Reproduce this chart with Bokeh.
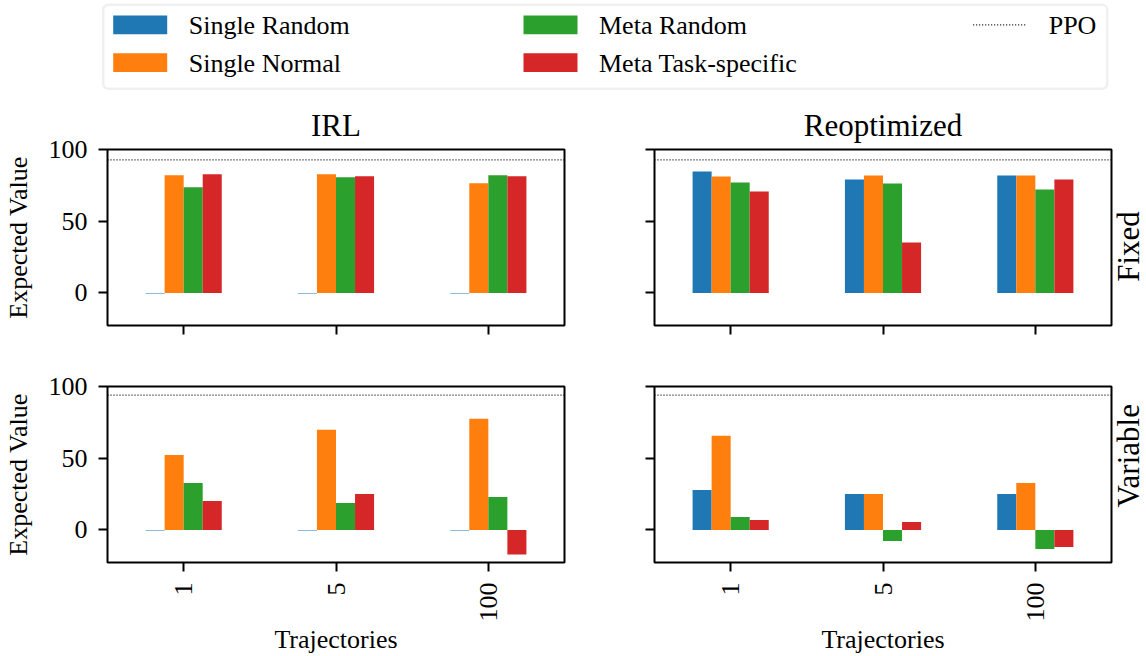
import math
from bokeh.plotting import figure
from bokeh.layouts import column, row
from bokeh.models import (ColumnDataSource, FactorRange, Range1d, FixedTicker,
                          Span, BoxAnnotation)
from bokeh.transform import dodge
from bokeh.core.properties import value
from bokeh.embed import file_html
from bokeh.resources import INLINE

FONT = "Liberation Serif"

# ---------------- data ----------------
trajectories = ["1", "5", "100"]
series_names = ["Single Random", "Single Normal", "Meta Random", "Meta Task-specific"]
series_colors = ["#1f77b4", "#ff7f0e", "#2ca02c", "#d62728"]
y_ticks = [0, 50, 100]

# IRL / Fixed
irl_fixed_single_random = [-0.4, -0.4, -0.4]
irl_fixed_single_normal = [82.0, 82.7, 76.4]
irl_fixed_meta_random = [73.6, 80.6, 82.0]
irl_fixed_meta_task = [82.7, 81.3, 81.3]
# Reoptimized / Fixed
reopt_fixed_single_random = [84.7, 79.1, 81.9]
reopt_fixed_single_normal = [81.2, 81.9, 81.9]
reopt_fixed_meta_random = [77.0, 76.3, 72.1]
reopt_fixed_meta_task = [70.7, 35.1, 79.1]
# IRL / Variable
irl_var_single_random = [-0.4, -0.4, -0.4]
irl_var_single_normal = [52.3, 69.8, 77.5]
irl_var_meta_random = [32.8, 18.8, 23.0]
irl_var_meta_task = [20.2, 25.1, -17.2]
# Reoptimized / Variable
reopt_var_single_random = [27.9, 25.1, 25.1]
reopt_var_single_normal = [65.6, 25.1, 32.8]
reopt_var_meta_random = [9.1, -7.7, -13.3]
reopt_var_meta_task = [7.0, 5.6, -11.9]

ppo_fixed = 92.8
ppo_variable = 94.0

column_titles = ["IRL", "Reoptimized"]
row_labels = ["Fixed", "Variable"]
y_label = "Expected Value"
x_label = "Trajectories"
ppo_label = "PPO"

Y_MIN, Y_MAX = -22.7, 100

# ---------------- layout constants ----------------
FRAME_W, FRAME_H = 457, 176
L_LEFT, L_RIGHT = 103, 40
R_LEFT, R_RIGHT = 50, 2
SIDE_W = 37
TOTAL_W = L_LEFT + FRAME_W + L_RIGHT + R_LEFT + FRAME_W + R_RIGHT + SIDE_W
LEG_H = 92
ROW1 = (57, 30)   # top, bottom borders
ROW2 = (31, 92)
BAR_W = 0.5 / len(series_names)
DOT = "1 2"


def style_axis(ax, show_labels):
    ax.axis_line_color = None
    ax.major_tick_line_color = "black"
    ax.major_tick_line_width = 2
    ax.major_tick_out = 9
    ax.major_tick_in = 0
    ax.minor_tick_line_color = None
    ax.major_label_text_font = FONT
    ax.axis_label_text_font = FONT
    ax.axis_label_text_font_style = "normal"
    ax.axis_label_text_color = "black"
    ax.axis_label_text_font_size = "26px"
    if show_labels:
        ax.major_label_text_font_size = "26px"
        ax.major_label_text_color = "black"
    else:
        ax.major_label_text_font_size = "0px"
        ax.major_label_text_color = None
        ax.major_label_standoff = 0


def panel(values, ppo, title=None, ylabel=False, xlabels=False,
          left=0, right=0, top=0, bottom=0):
    p = figure(x_range=FactorRange(factors=trajectories), y_range=Range1d(Y_MIN, Y_MAX),
               frame_width=FRAME_W, frame_height=FRAME_H, title=title,
               output_backend="svg", toolbar_location=None,
               min_border_left=left, min_border_right=right,
               min_border_top=top, min_border_bottom=bottom)
    p.background_fill_color = "white"
    p.border_fill_color = "white"
    p.outline_line_color = "black"
    p.outline_line_width = 2
    p.outline_line_alpha = 1
    p.xgrid.visible = False
    p.ygrid.visible = False

    data = {"traj": trajectories}
    for i, vals in enumerate(values):
        data["s%d" % i] = vals
    src = ColumnDataSource(data)
    for i, color in enumerate(series_colors):
        p.vbar(x=dodge("traj", (i - 1.5) * BAR_W, range=p.x_range), top="s%d" % i,
               bottom=0, width=BAR_W, source=src, fill_color=color, line_color=None)

    p.add_layout(Span(location=ppo, dimension="width", line_color="black",
                      line_width=1.2, line_dash=DOT))

    yax = p.yaxis[0]
    yax.ticker = FixedTicker(ticks=y_ticks, minor_ticks=[])
    style_axis(yax, ylabel)
    if ylabel:
        yax.axis_label = y_label
        yax.major_label_standoff = 11
        yax.axis_label_standoff = 13

    xax = p.xaxis[0]
    style_axis(xax, xlabels)
    if xlabels:
        xax.major_label_orientation = math.pi / 2
        xax.major_label_standoff = 11
        xax.axis_label = x_label
        xax.axis_label_standoff = 0

    if title:
        p.title.align = "center"
        p.title.text_font = FONT
        p.title.text_font_size = "31px"
        p.title.text_font_style = "normal"
        p.title.text_color = "black"
        p.title.standoff = 14
    return p


def side(label, height, top_border):
    s = figure(width=SIDE_W, height=height, x_range=Range1d(0, SIDE_W), y_range=Range1d(0, height),
               output_backend="svg", toolbar_location=None, min_border=0,
               x_axis_location=None, y_axis_location=None, outline_line_color=None)
    s.grid.visible = False
    s.background_fill_color = "white"
    s.border_fill_color = "white"
    center_from_top = top_border + FRAME_H / 2
    s.text(x=[SIDE_W / 2 - 4], y=[height - center_from_top], text=[label], angle=math.pi / 2,
           text_font=value(FONT), text_font_size="31px", text_color="black",
           text_align="center", text_baseline="middle")
    return s


tl = panel([irl_fixed_single_random, irl_fixed_single_normal, irl_fixed_meta_random, irl_fixed_meta_task],
           ppo_fixed, title=column_titles[0], ylabel=True,
           left=L_LEFT, right=L_RIGHT, top=ROW1[0], bottom=ROW1[1])
tr = panel([reopt_fixed_single_random, reopt_fixed_single_normal, reopt_fixed_meta_random, reopt_fixed_meta_task],
           ppo_fixed, title=column_titles[1],
           left=R_LEFT, right=R_RIGHT, top=ROW1[0], bottom=ROW1[1])
bl = panel([irl_var_single_random, irl_var_single_normal, irl_var_meta_random, irl_var_meta_task],
           ppo_variable, ylabel=True, xlabels=True,
           left=L_LEFT, right=L_RIGHT, top=ROW2[0], bottom=ROW2[1])
br = panel([reopt_var_single_random, reopt_var_single_normal, reopt_var_meta_random, reopt_var_meta_task],
           ppo_variable, xlabels=True,
           left=R_LEFT, right=R_RIGHT, top=ROW2[0], bottom=ROW2[1])

s1 = side(row_labels[0], ROW1[0] + FRAME_H + ROW1[1], ROW1[0])
s2 = side(row_labels[1], ROW2[0] + FRAME_H + ROW2[1], ROW2[0])

# ---------------- legend strip ----------------
leg = figure(width=TOTAL_W, height=LEG_H, x_range=Range1d(0, TOTAL_W), y_range=Range1d(0, LEG_H),
             output_backend="svg", toolbar_location=None, min_border=0,
             x_axis_location=None, y_axis_location=None, outline_line_color=None)
leg.grid.visible = False
leg.background_fill_color = "white"
leg.border_fill_color = "white"

box_left = L_LEFT - 0.3
box_right = L_LEFT + FRAME_W + L_RIGHT + R_LEFT + FRAME_W - 0.3
leg.add_layout(BoxAnnotation(left=box_left, right=box_right, top=LEG_H - 4.3, bottom=LEG_H - 88.3,
                             fill_color=None, line_color="#cccccc", line_width=2.5,
                             border_radius=5))

col_x = [112.7, 523.0, 972.7]
row_top = [15.0, 52.8]
row_mid = [25.2, 63.0]
patch_w, patch_h = 54, 18.8
text_gap = 75.5

px, py, tx, ty = [], [], [], []
for i, name in enumerate(series_names):
    c, r = i // 2, i % 2
    px.append(col_x[c])
    py.append(row_top[r])
    tx.append(col_x[c] + text_gap)
    ty.append(LEG_H - row_mid[r])
lsrc = ColumnDataSource(dict(
    left=px, right=[x + patch_w for x in px],
    top=[LEG_H - y for y in py], bottom=[LEG_H - y - patch_h for y in py],
    color=series_colors, tx=tx, ty=ty, name=series_names))
leg.quad(left="left", right="right", top="top", bottom="bottom", fill_color="color",
         line_color=None, source=lsrc)
leg.text(x="tx", y="ty", text="name", source=lsrc, text_font=value(FONT),
         text_font_size="26px", text_color="black", text_baseline="middle",
         text_align="left")
# PPO entry
leg.segment(x0=[col_x[2]], x1=[col_x[2] + 53], y0=[LEG_H - 24.3], y1=[LEG_H - 24.3],
            line_color="black", line_width=1.2, line_dash=DOT)
leg.text(x=[col_x[2] + text_gap], y=[LEG_H - row_mid[0]], text=[ppo_label],
         text_font=value(FONT), text_font_size="26px", text_color="black",
         text_baseline="middle", text_align="left")

layout = column(leg, row(tl, tr, s1), row(bl, br, s2))

open("out.html", "w").write(file_html(layout, INLINE))
